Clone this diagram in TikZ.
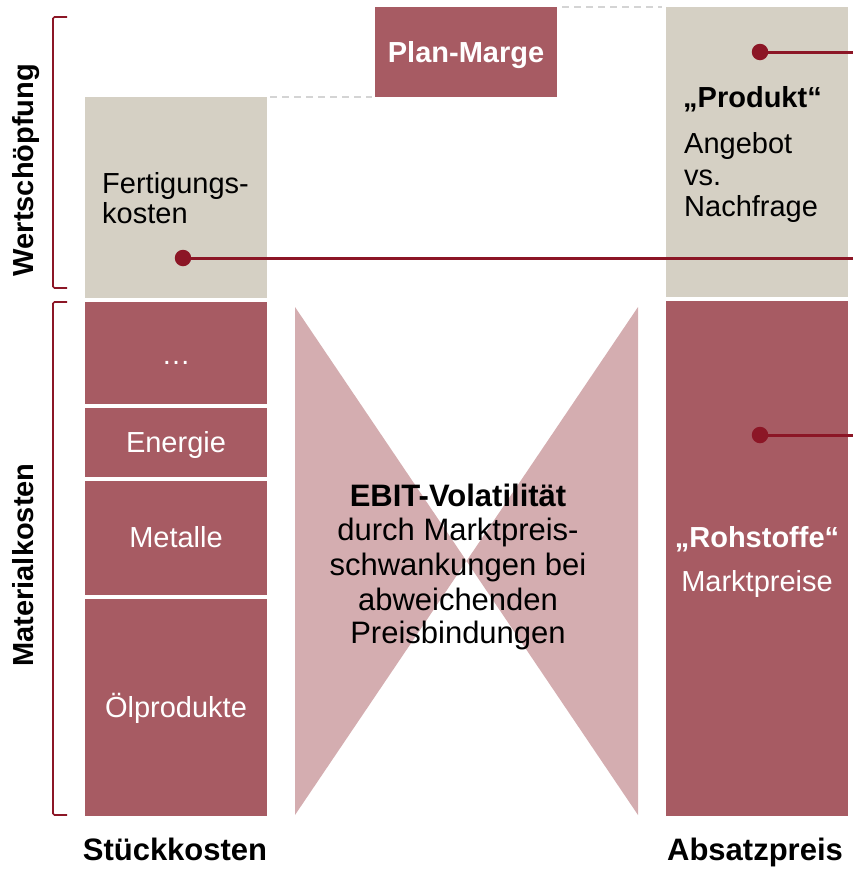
\documentclass[tikz,border=0pt]{standalone}
\usepackage{fontspec}
\setmainfont{Liberation Sans}
\definecolor{boxred}{HTML}{A75B63}
\definecolor{beige}{HTML}{D5D0C4}
\definecolor{pinktri}{HTML}{D4ADB0}
\definecolor{darkred}{HTML}{8C1626}
\definecolor{dashgray}{HTML}{D4D4D4}
\begin{document}
\begin{tikzpicture}[x=1pt,y=-1pt,
  box/.style={draw=none, inner sep=0pt, outer sep=0pt, anchor=north west},
  txt/.style={font=\fontsize{29}{30}\selectfont, inner sep=0pt, anchor=base},
  wtxt/.style={txt, text=white},
  btxt/.style={font=\fontsize{29}{30}\selectfont\bfseries, inner sep=0pt, anchor=base},
  bigtxt/.style={font=\fontsize{31}{34}\selectfont, inner sep=0pt, anchor=base},
  bigbtxt/.style={font=\fontsize{31}{34}\selectfont\bfseries, inner sep=0pt, anchor=base},
  dotnode/.style={circle, fill=darkred, minimum size=16.5pt, inner sep=0pt},
  link/.style={draw=darkred, line width=3pt},
  gline/.style={draw=dashgray, line width=2pt, dash pattern=on 7pt off 5pt},
  brk/.style={draw=darkred, line width=1.6pt, rounded corners=1.5pt}
]
\useasboundingbox (0,0) rectangle (853,873);

% triangles (bow tie)
\fill[pinktri] (295,307) -- (295,815) -- (466.5,561) -- cycle;
\fill[pinktri] (638,307) -- (638,815) -- (466.5,561) -- cycle;

% left column
\node[box, fill=beige, minimum width=182pt, minimum height=201pt] (fert) at (85,97) {};
\node[box, fill=boxred, minimum width=182pt, minimum height=102pt] (etc) at (85,302) {};
\node[box, fill=boxred, minimum width=182pt, minimum height=69pt] (ener) at (85,408) {};
\node[box, fill=boxred, minimum width=182pt, minimum height=114pt] (meta) at (85,481) {};
\node[box, fill=boxred, minimum width=182pt, minimum height=217pt] (oel) at (85,599) {};

% plan-marge and right column
\node[box, fill=boxred, minimum width=182pt, minimum height=90pt] (plan) at (375,7) {};
\node[box, fill=beige, minimum width=182pt, minimum height=290pt] (prod) at (666,7) {};
\node[box, fill=boxred, minimum width=182pt, minimum height=515pt] (roh) at (666,301) {};

% dashed guides
\draw[gline, shorten <=3pt, shorten >=3pt] (fert.north east) -- (plan.south west);
\draw[gline, shorten <=5pt, shorten >=4pt] (plan.north east) -- (prod.north west);

% texts left column
\node[txt, anchor=base west] (t1) at (102,193) {Fertigungs-};
\node[txt, anchor=base west] (t2) at (102,223) {kosten};
\node[wtxt] (t3) at (176,364) {…};
\node[wtxt] (t4) at (176,452) {Energie};
\node[wtxt] (t5) at (176,547) {Metalle};
\node[wtxt] (t6) at (176,717) {Ölprodukte};

% plan-marge text
\node[btxt, text=white] (t7) at (466,62) {Plan-Marge};

% right column texts
\node[btxt, anchor=base west] (t8) at (683,107) {„Produkt“};
\node[txt, anchor=base west] (t9) at (684,153) {Angebot};
\node[txt, anchor=base west] (t10) at (684,185) {vs.};
\node[txt, anchor=base west] (t11) at (684,216) {Nachfrage};
\node[btxt, text=white] (t12) at (757,547) {„Rohstoffe“};
\node[wtxt] (t13) at (757,591) {Marktpreise};

% center text
\node[bigbtxt] (c1) at (458,506) {EBIT-Volatilität};
\node[bigtxt] (c2) at (458,540) {durch Marktpreis-};
\node[bigtxt] (c3) at (458,575) {schwankungen bei};
\node[bigtxt] (c4) at (458,610) {abweichenden};
\node[bigtxt] (c5) at (458,643) {Preisbindungen};

% bottom labels
\node[bigbtxt] (s1) at (175,860) {Stückkosten};
\node[bigbtxt] (s2) at (755,860) {Absatzpreis};

% side labels and brackets
\node[btxt, rotate=90] (w1) at (34,170) {Wertschöpfung};
\node[btxt, rotate=90] (w2) at (34,565) {Materialkosten};
\draw[brk] (67,17) -- (53,17) -- (53,288) -- (67,288);
\draw[brk] (67,302) -- (53,302) -- (53,815) -- (67,815);

% dots and lines
\node[dotnode] (d1) at (760,52) {};
\coordinate (e1) at (853,52);
\draw[link] (d1) -- (e1);
\node[dotnode] (d2) at (183,258) {};
\coordinate (e2) at (853,258);
\draw[link] (d2) -- (e2);
\node[dotnode] (d3) at (760,435) {};
\coordinate (e3) at (853,435);
\draw[link] (d3) -- (e3);
\end{tikzpicture}
\end{document}
